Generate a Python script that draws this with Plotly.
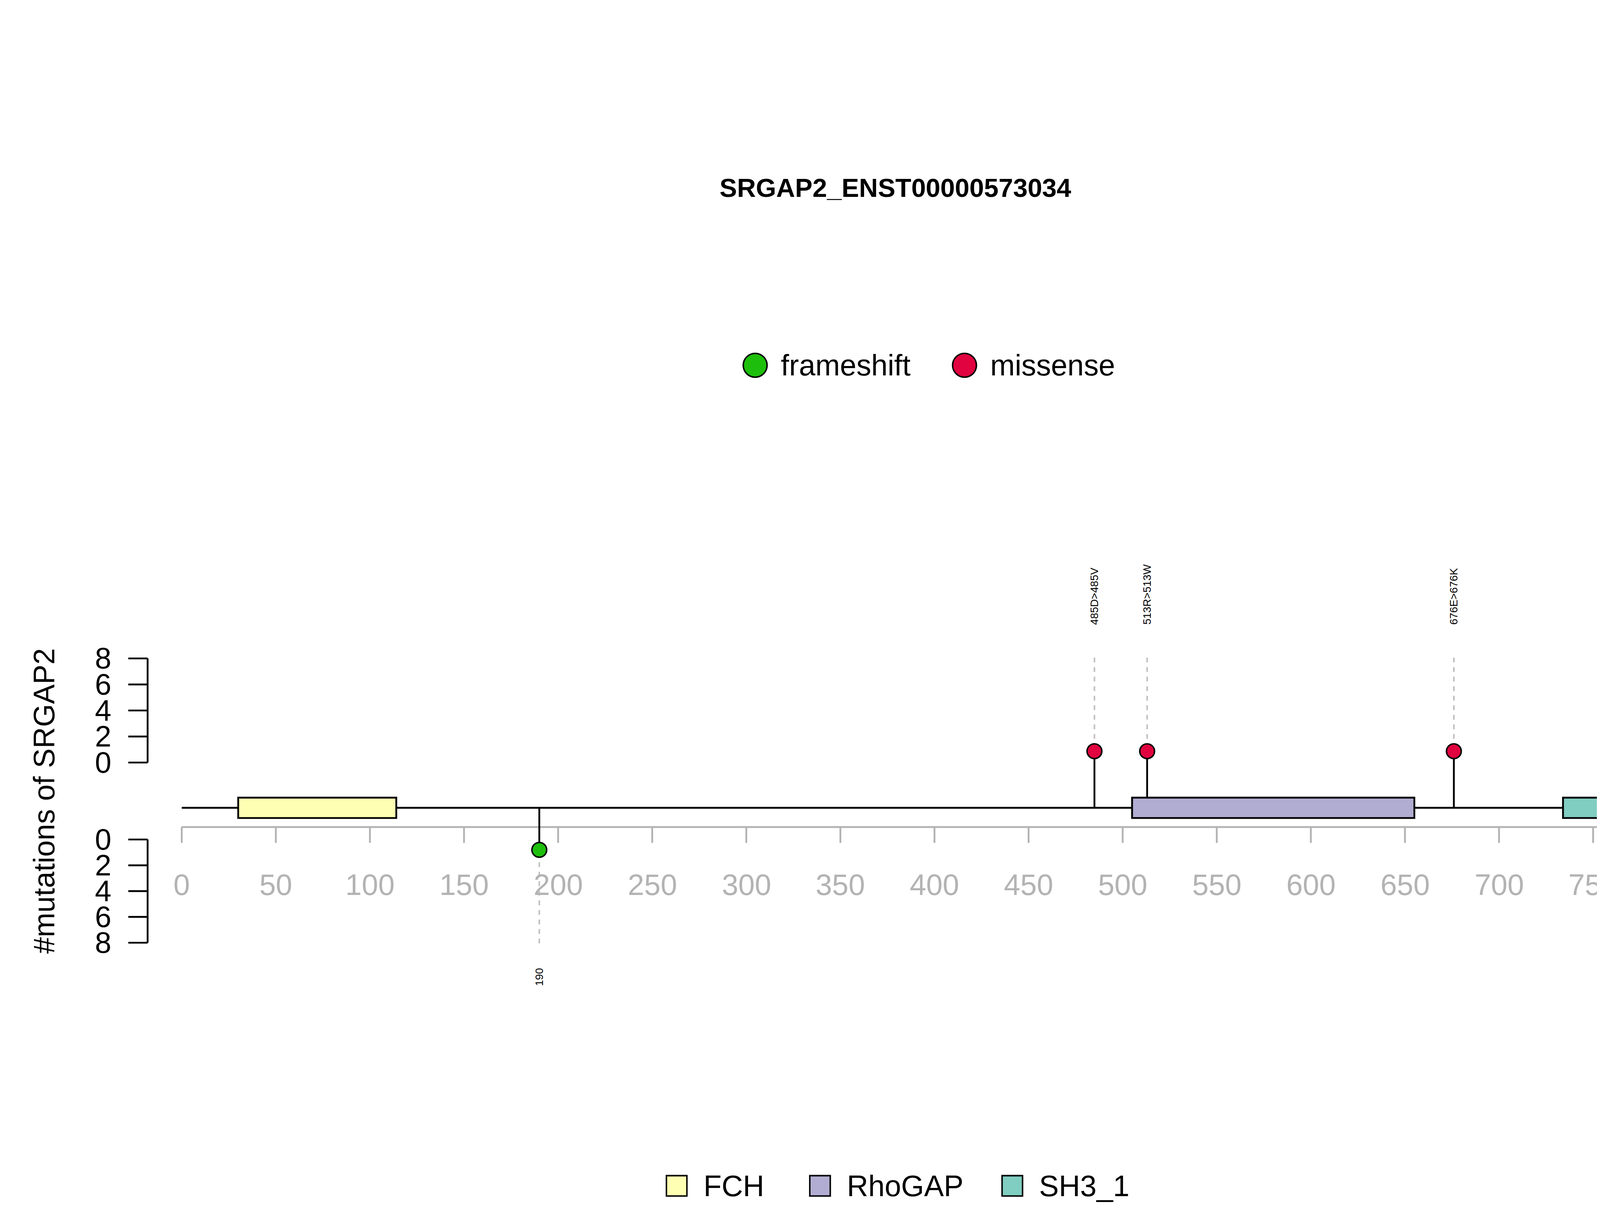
import plotly.graph_objects as go

title = "SRGAP2_ENST00000573034"
protein_len = 800
domain_names = ["FCH", "RhoGAP", "SH3_1"]
domain_start = [30, 505, 734]
domain_end = [114, 655, 779]
domain_colors = ["#FFFFB3", "#B1ADD2", "#80CDC1"]

mut_pos = [190, 485, 513, 676]
mut_count = [1, 1, 1, 1]
mut_type = ["frameshift", "missense", "missense", "missense"]
mut_label = ["190", "485D>485V", "513R>513W", "676E>676K"]
type_colors = {"frameshift": "#1DBF0C", "missense": "#E0033F"}

x_ticks = list(range(0, 801, 50))
count_ticks = [0, 2, 4, 6, 8]

# vertical layout in reference pixel units (y = -pixel row of a 1545x1070 page)
Y_BACK = -711
Y_AXIS = -728
UP0, UP_STEP = -671, 11.5
LO0, LO_STEP = -739, 11.4
PX_PER_AA = 1.654
X0_PX = 157


def xd(px):
    return (px - X0_PX) / PX_PER_AA


fig = go.Figure()
S = 2.91  # scale to 4500 px page
BLACK = "black"
GREY = "#B3B3B3"
FONT = "Liberation Sans"

# backbone
fig.add_trace(go.Scatter(x=[0, protein_len], y=[Y_BACK, Y_BACK], mode="lines",
                         line=dict(color=BLACK, width=1.6 * S), hoverinfo="skip"))
# domains
for s, e, c in zip(domain_start, domain_end, domain_colors):
    fig.add_shape(type="rect", x0=s, x1=e, y0=Y_BACK - 9, y1=Y_BACK + 9,
                  fillcolor=c, line=dict(color=BLACK, width=1.6 * S))

# gene axis
fig.add_trace(go.Scatter(x=[0, protein_len], y=[Y_AXIS, Y_AXIS], mode="lines",
                         line=dict(color=GREY, width=1.6 * S), hoverinfo="skip"))
for t in x_ticks:
    fig.add_trace(go.Scatter(x=[t, t], y=[Y_AXIS, Y_AXIS - 14], mode="lines",
                             line=dict(color=GREY, width=1.6 * S), hoverinfo="skip"))
    fig.add_annotation(x=t, y=-779, text=str(t), showarrow=False,
                       font=dict(size=26 * S, color=GREY, family=FONT))

# count axes (upper and lower)
ax_x = xd(127)
for base, step in [(UP0, UP_STEP), (LO0, -LO_STEP)]:
    ys = [base + step * c for c in count_ticks]
    fig.add_trace(go.Scatter(x=[ax_x, ax_x], y=[ys[0], ys[-1]], mode="lines",
                             line=dict(color=BLACK, width=1.6 * S), hoverinfo="skip"))
    for c, yy in zip(count_ticks, ys):
        fig.add_trace(go.Scatter(x=[ax_x, xd(110)], y=[yy, yy], mode="lines",
                                 line=dict(color=BLACK, width=1.6 * S), hoverinfo="skip"))
        fig.add_annotation(x=xd(88), y=yy, text=str(c), showarrow=False,
                           font=dict(size=26 * S, color=BLACK, family=FONT))
fig.add_annotation(x=xd(36), y=-705, text="#mutations of SRGAP2", textangle=-90,
                   showarrow=False, font=dict(size=26 * S, color=BLACK, family=FONT))

# lollipops
for p, c, t, lab in zip(mut_pos, mut_count, mut_type, mut_label):
    if t == "missense":
        yp = UP0 + UP_STEP * c * 0.87
        dash_y = [yp + 11, -575]
        lab_y, anchor = -550, "bottom"
    else:
        yp = LO0 - LO_STEP * c * 0.8
        dash_y = [yp - 11, -835]
        lab_y, anchor = -852, "top"
    fig.add_trace(go.Scatter(x=[p, p], y=dash_y, mode="lines",
                             line=dict(color="#C0C0C0", width=1.4 * S, dash="dash"),
                             hoverinfo="skip"))
    fig.add_trace(go.Scatter(x=[p, p], y=[Y_BACK, yp], mode="lines",
                             line=dict(color=BLACK, width=1.6 * S), hoverinfo="skip"))
    fig.add_trace(go.Scatter(x=[p], y=[yp], mode="markers",
                             marker=dict(size=13 * S, color=type_colors[t],
                                         line=dict(color=BLACK, width=1.3 * S)),
                             hovertext=lab, hoverinfo="text"))
    fig.add_annotation(x=p, y=lab_y, text=lab, textangle=-90, showarrow=False,
                       yanchor=anchor, font=dict(size=9.5 * S, color=BLACK, family=FONT))

# title
fig.add_annotation(x=xd(784), y=-163, text="<b>" + title + "</b>", showarrow=False,
                   font=dict(size=23 * S, color=BLACK, family=FONT))

# mutation type legend
for name, px in [("frameshift", 661), ("missense", 845)]:
    fig.add_trace(go.Scatter(x=[xd(px)], y=[-320], mode="markers",
                             marker=dict(size=21 * S, color=type_colors[name],
                                         line=dict(color=BLACK, width=1.3 * S)),
                             hoverinfo="skip"))
    fig.add_annotation(x=xd(px + 22), y=-320, text=name, showarrow=False, xanchor="left",
                       font=dict(size=26 * S, color=BLACK, family=FONT))

# domain legend
for name, c, px in zip(domain_names, domain_colors, [592, 718, 887]):
    fig.add_shape(type="rect", x0=xd(px - 9), x1=xd(px + 9), y0=-1054, y1=-1036,
                  fillcolor=c, line=dict(color=BLACK, width=1.3 * S))
    fig.add_annotation(x=xd(px + 23), y=-1045, text=name, showarrow=False, xanchor="left",
                       font=dict(size=26 * S, color=BLACK, family=FONT))

fig.update_layout(
    width=4500, height=3100, showlegend=False,
    margin=dict(l=0, r=0, t=0, b=0),
    paper_bgcolor="white", plot_bgcolor="white",
    xaxis=dict(range=[xd(0), xd(1545)], visible=False),
    yaxis=dict(range=[-1070, 0], visible=False),
)
fig.write_html("out.html")
